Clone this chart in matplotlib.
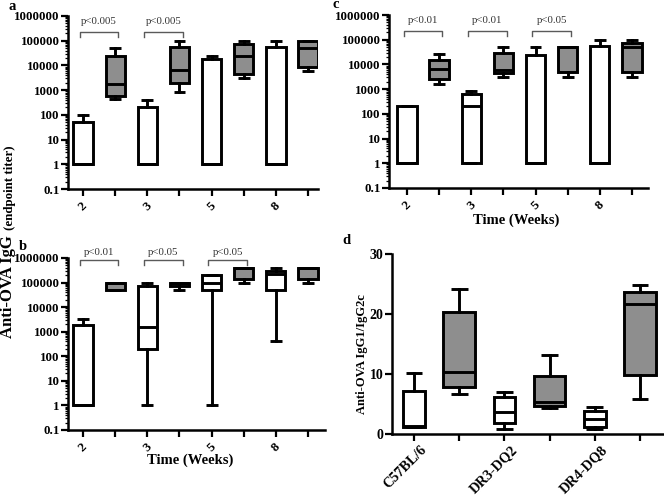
import numpy as np
import matplotlib
matplotlib.use("Agg")
import matplotlib.pyplot as plt
from matplotlib.ticker import LogLocator, FixedLocator, FixedFormatter, NullFormatter
from matplotlib.transforms import ScaledTranslation

plt.rcParams['font.family'] = ['Liberation Serif', 'DejaVu Serif']
plt.rcParams['font.weight'] = 'bold'

# ---------------- data ----------------
weeks = ['2', '3', '5', '8']
strains = ['C57BL/6', 'DR3-DQ2', 'DR4-DQ8']
log_ticks = [0.1, 1, 10, 100, 1000, 10000, 100000, 1000000]
log_tick_labels = ['0.1', '1', '10', '100', '1000', '10000', '100000', '1000000']
lin_ticks = [0, 10, 20, 30]

# order: white wk2, grey wk2, white wk3, grey wk3, white wk5, grey wk5, white wk8, grey wk8
a_whislo = [1, 430, 1, 830, 1, 3100, 1, 6100]
a_q1 = [1, 600, 1, 2000, 1, 4500, 1, 8600]
a_med = [1, 1700, 1, 6300, 1, 25000, 1, 50000]
a_q3 = [50, 25000, 200, 54000, 18000, 75000, 56000, 100000]
a_whishi = [100, 50000, 400, 100000, 25000, 100000, 100000, 100000]
a_pvals = ['p<0.005', 'p<0.005']

c_whislo = [1, 1600, 1, 3100, 1, 3100, 1, 3100]
c_q1 = [1, 2500, 1, 4700, 1, 5000, 1, 5000]
c_med = [1, 6300, 200, 6100, 1, 50000, 1, 50000]
c_q3 = [200, 15500, 610, 29000, 25000, 50000, 55000, 75000]
c_whishi = [200, 27000, 850, 52000, 52000, 50000, 100000, 100000]
c_pvals = ['p<0.01', 'p<0.01', 'p<0.05']

b_whislo = [1, 50000, 1, 50000, 1, 100000, 400, 100000]
b_q1 = [1, 50000, 200, 70000, 50000, 140000, 50000, 140000]
b_med = [1, 100000, 1600, 100000, 100000, 400000, 220000, 400000]
b_q3 = [1800, 100000, 75000, 100000, 200000, 400000, 300000, 400000]
b_whishi = [3200, 100000, 100000, 100000, 200000, 400000, 400000, 400000]
b_pvals = ['p<0.01', 'p<0.05', 'p<0.05']

# order: white C57, grey C57, white DR3, grey DR3, white DR4, grey DR4
d_whislo = [1.2, 6.7, 0.9, 4.3, 0.9, 5.9]
d_q1 = [1.2, 7.9, 1.9, 4.6, 1.1, 9.8]
d_med = [1.4, 10.4, 3.7, 5.4, 2.5, 21.7]
d_q3 = [7.2, 20.3, 6.2, 9.6, 3.8, 23.6]
d_whishi = [10.2, 24.2, 7.0, 13.1, 4.5, 24.9]

# ---------------- style ----------------
W, H = 664, 500
GREY = '#8e8e8e'
LW = 2.1
SPINE_LW = 1.8

fig = plt.figure(figsize=(W / 100, H / 100), dpi=100)


def px_axes(x0, y0, x1, y1):
    return fig.add_axes([x0 / W, 1 - y1 / H, (x1 - x0) / W, (y1 - y0) / H])


def ftext(x, y, s, **kw):
    return fig.text(x / W, 1 - y / H, s, **kw)


def draw_boxes(ax, whislo, q1, med, q3, whishi, widths):
    stats = [dict(whislo=a, q1=b, med=c, q3=d, whishi=e, fliers=[])
             for a, b, c, d, e in zip(whislo, q1, med, q3, whishi)]
    pos = np.arange(1, len(stats) + 1)
    res = ax.bxp(stats, positions=pos, widths=widths, capwidths=[0.37] * len(stats),
                 patch_artist=True, showfliers=False,
                 boxprops=dict(linewidth=LW, edgecolor='black'),
                 medianprops=dict(color='black', linewidth=LW, solid_capstyle='butt'),
                 whiskerprops=dict(color='black', linewidth=LW),
                 capprops=dict(color='black', linewidth=LW, solid_capstyle='butt'))
    for i, bx in enumerate(res['boxes']):
        bx.set_facecolor('white' if i % 2 == 0 else GREY)
    return pos


def style_axes(ax, ysize, xsize, xpad):
    for s in ['top', 'right']:
        ax.spines[s].set_visible(False)
    for s in ['left', 'bottom']:
        ax.spines[s].set_linewidth(SPINE_LW)
    ax.tick_params(which='major', direction='out', length=5, width=1.6)
    ax.tick_params(axis='y', which='major', labelsize=ysize, pad=1)
    ax.tick_params(axis='x', which='major', labelsize=xsize, pad=xpad)


def log_axes(ax, xlim):
    ax.set_yscale('log')
    ax.set_ylim(0.1, 1e6)
    ax.yaxis.set_major_locator(FixedLocator(log_ticks))
    ax.yaxis.set_major_formatter(FixedFormatter(log_tick_labels))
    ax.yaxis.set_minor_locator(LogLocator(base=10, subs=np.arange(2, 10), numticks=20))
    ax.yaxis.set_minor_formatter(NullFormatter())
    ax.tick_params(axis='y', which='minor', direction='out', length=2.5, width=0.9)
    ax.set_xlim(*xlim)
    pos = np.arange(1, 2 * len(weeks) + 1)
    ax.set_xticks(pos)
    labels = []
    for w in weeks:
        labels += [w, '']
    ax.set_xticklabels(labels, rotation=45, ha='center', va='top')
    style_axes(ax, 9.3, 9.5, 3)


def brackets(ax, pvals, y_line, y_leg, y_text):
    for k, p in enumerate(pvals):
        x0 = 2 * k + 1 - 0.1
        x1 = 2 * k + 2 + 0.1
        ax.plot([x0, x0, x1, x1], [y_leg, y_line, y_line, y_leg], color='#5a5a5a',
                lw=1.0, clip_on=False)
        ax.text((x0 + x1) / 2, y_text, p, ha='center', va='center', fontsize=7.8,
                fontweight='normal', color='#333333', clip_on=False)


# ---------------- panel a ----------------
ax_a = px_axes(68, 16, 318, 189)
draw_boxes(ax_a, a_whislo, a_q1, a_med, a_q3, a_whishi, 0.6)
log_axes(ax_a, (0.533, 8.31))
brackets(ax_a, a_pvals, 2.2e5, 1.4e5, 5.8e5)

# ---------------- panel c ----------------
ax_c = px_axes(389, 15, 648, 188)
draw_boxes(ax_c, c_whislo, c_q1, c_med, c_q3, c_whishi, 0.6)
log_axes(ax_c, (0.44, 8.5))
brackets(ax_c, c_pvals, 2.2e5, 1.4e5, 5.8e5)

# ---------------- panel b ----------------
ax_b = px_axes(68, 258, 325, 430)
draw_boxes(ax_b, b_whislo, b_q1, b_med, b_q3, b_whishi, 0.6)
log_axes(ax_b, (0.533, 8.53))
brackets(ax_b, b_pvals, 8.3e5, 5.2e5, 1.6e6)

# ---------------- panel d ----------------
ax_d = px_axes(392, 254, 663, 434)
d_widths = [0.48, 0.7] * len(strains)
draw_boxes(ax_d, d_whislo, d_q1, d_med, d_q3, d_whishi, d_widths)
ax_d.set_ylim(0, 30)
ax_d.set_yticks(lin_ticks)
ax_d.set_yticklabels([str(t) for t in lin_ticks])
ax_d.set_xlim(0.513, 6.51)
ax_d.set_xticks(np.arange(1, 2 * len(strains) + 1))
d_labels = []
for s in strains:
    d_labels += [s, '']
ax_d.set_xticklabels(d_labels, rotation=45, ha='right', va='top')
style_axes(ax_d, 10, 10.3, 1.5)
off = ScaledTranslation(15 / 100, 0, fig.dpi_scale_trans)
for lbl in ax_d.get_xticklabels():
    lbl.set_transform(lbl.get_transform() + off)

# ---------------- labels ----------------
ftext(516, 220, 'Time (Weeks)', ha='center', va='center', fontsize=10.5)
ftext(190, 460, 'Time (Weeks)', ha='center', va='center', fontsize=10.5)
ftext(8, 338, 'Anti-OVA IgG', ha='center', va='bottom', rotation=90, fontsize=12)
ftext(10, 230, '(endpoint titer)', ha='center', va='bottom', rotation=90, fontsize=9.3)
ftext(362, 354, 'Anti-OVA IgG1/IgG2c', ha='center', va='center', rotation=90, fontsize=9)

ftext(12, 6, 'a', ha='center', va='center', fontsize=10.5)
ftext(23, 247, 'b', ha='center', va='center', fontsize=10.5)
ftext(336, 5, 'c', ha='center', va='center', fontsize=10.5)
ftext(346, 241, 'd', ha='center', va='center', fontsize=10.5)

fig.savefig('out.png', dpi=100)
